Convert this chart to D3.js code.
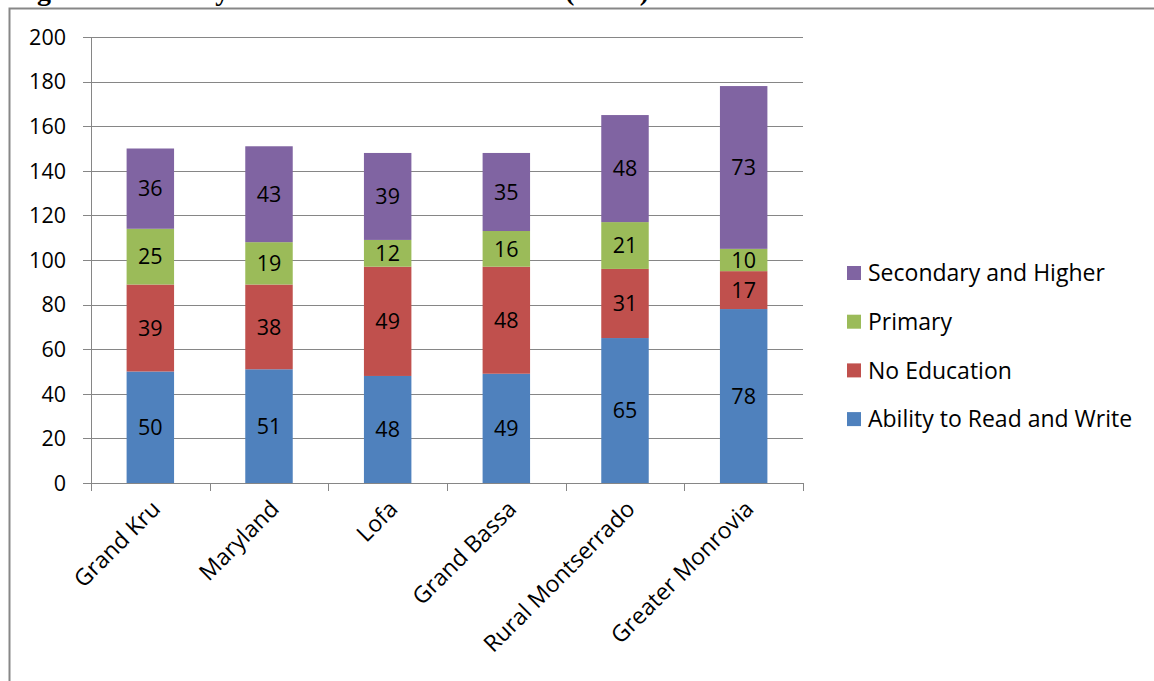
<!DOCTYPE html>
<html><head><meta charset="utf-8">
<script src="https://cdn.jsdelivr.net/npm/d3@7"></script>
<style>
html,body{margin:0;padding:0;background:#fff;overflow:hidden}
svg{display:block}
</style></head>
<body>
<script>
const categories = ["Grand Kru","Maryland","Lofa","Grand Bassa","Rural Montserrado","Greater Monrovia"];
const seriesNames = ["Ability to Read and Write","No Education","Primary","Secondary and Higher"];
const readWrite = [50,51,48,49,65,78];
const noEducation = [39,38,49,48,31,17];
const primary = [25,19,12,16,21,10];
const secondary = [36,43,39,35,48,73];
const yTicks = [0,20,40,60,80,100,120,140,160,180,200];
const colors = ["#4F81BD","#C0504D","#9BBB59","#8064A2"];
const titleMain = "Figure 4: Literacy and Level of Education";
const titleUnit = "(levels)";

const W=1154,H=681;
const svg=d3.select("body").append("svg").attr("width",W).attr("height",H);
const font="'Open Sans', sans-serif";
const fsNum=21.5, fsTxt=23;

// cropped title (only its bottom shows, as in the reference)
const tt=svg.append("text").attr("x",12).attr("y",-0.5).attr("font-family","'Liberation Serif', 'Times New Roman', serif")
  .attr("font-weight","bold").attr("font-size",28).attr("fill","#000");
tt.append("tspan").text(titleMain);
tt.append("tspan").attr("x",565).text(titleUnit);

// frame
svg.append("path").attr("d",`M9.5,${H+2} V8.5 H${W+2}`).attr("fill","none").attr("stroke","#878787").attr("stroke-width",2);

const x0=91,x1=803,yTop=37,yBot=483;
const x=d3.scaleBand().domain(categories).range([x0,x1]).paddingInner(0.6).paddingOuter(0.3);
const xb=d3.scaleBand().domain(categories).range([x0,x1]);
const y=d3.scaleLinear().domain([0,200]).range([yBot,yTop]);

const g=svg.append("g");
g.selectAll("line.grid").data(yTicks).join("line").attr("class","grid")
  .attr("x1",x0-8).attr("x2",x1).attr("y1",d=>Math.round(y(d))+0.5).attr("y2",d=>Math.round(y(d))+0.5)
  .attr("stroke","#868686").attr("stroke-width",1);
g.append("line").attr("x1",x0+0.5).attr("x2",x0+0.5).attr("y1",yTop).attr("y2",yBot+8).attr("stroke","#868686");
const bounds=categories.map(c=>xb(c)).concat([x1]);
g.selectAll("line.xt").data(bounds).join("line").attr("class","xt")
  .attr("x1",d=>Math.round(d)+0.5).attr("x2",d=>Math.round(d)+0.5).attr("y1",yBot).attr("y2",yBot+8).attr("stroke","#868686");

g.selectAll("text.yl").data(yTicks).join("text").attr("class","yl")
  .attr("x",66).attr("y",d=>y(d)).attr("dy","0.36em").attr("text-anchor","end")
  .attr("font-family",font).attr("font-size",fsNum).attr("fill","#000").text(d=>d);

const rows=categories.map((c,i)=>({cat:c,s0:readWrite[i],s1:noEducation[i],s2:primary[i],s3:secondary[i]}));
const stack=d3.stack().keys(["s0","s1","s2","s3"])(rows);
stack.forEach((layer,li)=>{
  const lg=g.append("g");
  lg.selectAll("rect").data(layer).join("rect")
    .attr("x",d=>x(d.data.cat)).attr("width",x.bandwidth())
    .attr("y",d=>y(d[1])).attr("height",d=>y(d[0])-y(d[1])).attr("fill",colors[li]);
  lg.selectAll("text").data(layer).join("text")
    .attr("x",d=>x(d.data.cat)+x.bandwidth()/2).attr("y",d=>(y(d[0])+y(d[1]))/2).attr("dy","0.36em")
    .attr("text-anchor","middle").attr("font-family",font).attr("font-size",fsNum).attr("fill","#000")
    .text(d=>d[1]-d[0]);
});
g.append("line").attr("x1",x0).attr("x2",x1).attr("y1",yBot+0.5).attr("y2",yBot+0.5).attr("stroke","#868686");

g.selectAll("text.xl").data(categories).join("text").attr("class","xl")
  .attr("transform",d=>`translate(${xb(d)+xb.bandwidth()/2},${yBot+16}) rotate(-45)`)
  .attr("text-anchor","end").attr("dy","0.7em").attr("font-family",font).attr("font-size",fsTxt).attr("fill","#000").text(d=>d);

const legOrder=[3,2,1,0];
const lgd=svg.append("g");
legOrder.forEach((si,k)=>{
  const cy=273+k*48.7;
  lgd.append("rect").attr("x",847).attr("y",cy-7).attr("width",14).attr("height",14).attr("fill",colors[si]);
  lgd.append("text").attr("x",868).attr("y",cy).attr("dy","0.36em").attr("font-family",font).attr("font-size",fsTxt).attr("fill","#000").text(seriesNames[si]);
});
</script>
</body></html>
